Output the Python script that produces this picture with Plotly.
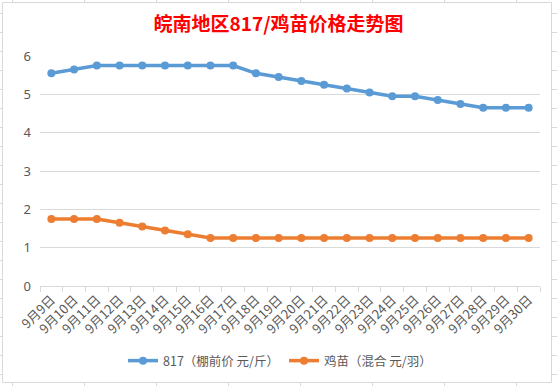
import plotly.graph_objects as go

dates = ["9月9日", "9月10日", "9月11日", "9月12日", "9月13日", "9月14日", "9月15日", "9月16日",
         "9月17日", "9月18日", "9月19日", "9月20日", "9月21日", "9月22日", "9月23日", "9月24日",
         "9月25日", "9月26日", "9月27日", "9月28日", "9月29日", "9月30日"]
price_817 = [5.55, 5.65, 5.75, 5.75, 5.75, 5.75, 5.75, 5.75, 5.75, 5.55, 5.45, 5.35,
             5.25, 5.15, 5.05, 4.95, 4.95, 4.85, 4.75, 4.65, 4.65, 4.65]
price_chick = [1.75, 1.75, 1.75, 1.65, 1.55, 1.45, 1.35, 1.25, 1.25, 1.25, 1.25, 1.25,
               1.25, 1.25, 1.25, 1.25, 1.25, 1.25, 1.25, 1.25, 1.25, 1.25]
name_817 = "817（棚前价 元/斤）"
name_chick = "鸡苗（混合 元/羽）"
title = "皖南地区817/鸡苗价格走势图"

W, H = 557, 386
L, R, T, B = 40, 540, 56, 286
CJK = "Noto Sans CJK SC"
GREY = "#595959"

fig = go.Figure()
fig.add_trace(go.Scatter(x=dates, y=price_817, name=name_817, mode="lines+markers",
                         line=dict(color="#5B9BD5", width=3.5),
                         marker=dict(size=8, color="#5B9BD5")))
fig.add_trace(go.Scatter(x=dates, y=price_chick, name=name_chick, mode="lines+markers",
                         line=dict(color="#ED7D31", width=3.5),
                         marker=dict(size=8, color="#ED7D31")))


def px(x):
    return (x - L) / (R - L)


def py(y):
    return (B - y) / (B - T)


shapes = [dict(type="rect", xref="paper", yref="paper", x0=px(2.5), x1=px(551.5),
               y0=py(382.5), y1=py(2.5), line=dict(color="#D9D9D9", width=1))]
# spreadsheet cell lines peeking around the chart
for xv in range(12, 557, 72):
    shapes.append(dict(type="line", xref="paper", yref="paper", x0=px(xv + 0.5), x1=px(xv + 0.5),
                       y0=py(0), y1=py(2.5), line=dict(color="#D9D9D9", width=1)))
    shapes.append(dict(type="line", xref="paper", yref="paper", x0=px(xv + 0.5), x1=px(xv + 0.5),
                       y0=py(382.5), y1=py(386), line=dict(color="#D9D9D9", width=1)))
for yv in range(13, 386, 19):
    shapes.append(dict(type="line", xref="paper", yref="paper", x0=px(0), x1=px(2.5),
                       y0=py(yv + 0.5), y1=py(yv + 0.5), line=dict(color="#D9D9D9", width=1)))
    shapes.append(dict(type="line", xref="paper", yref="paper", x0=px(551.5), x1=px(557),
                       y0=py(yv + 0.5), y1=py(yv + 0.5), line=dict(color="#D9D9D9", width=1)))

fig.update_layout(
    width=W, height=H,
    margin=dict(l=L, r=W - R, t=T, b=H - B, autoexpand=False),
    paper_bgcolor="white", plot_bgcolor="white",
    title=dict(text="<b>" + title + "</b>", x=0.5, xanchor="center", xref="container",
               y=1 - 24 / H, yanchor="middle",
               font=dict(family=CJK, size=19, color="#FF0000")),
    font=dict(family=CJK, color=GREY),
    showlegend=True,
    legend=dict(orientation="h", x=px(280), xanchor="center", y=py(361), yanchor="middle",
                font=dict(family=CJK, size=12.5, color=GREY), itemwidth=30,
                tracegroupgap=0),
    xaxis=dict(type="category", range=[-0.5, len(dates) - 0.5], tickangle=-45,
               tickfont=dict(family=CJK, size=13, color=GREY),
               showgrid=False, showline=True, linecolor="#D9D9D9", linewidth=1,
               ticks="outside", tickson="boundaries", ticklen=5, tickcolor="#D9D9D9",
               zeroline=False),
    yaxis=dict(range=[0, 6], dtick=1, tickfont=dict(family="Noto Sans", size=13, color=GREY),
               showgrid=True, gridcolor="#D9D9D9", gridwidth=1, zeroline=False,
               showline=False, ticks="", ticklabelstandoff=8),
    shapes=shapes,
)

fig.write_html("out.html", config={"displayModeBar": False},
               post_script="document.body.style.margin='0';document.body.style.overflow='hidden';")
